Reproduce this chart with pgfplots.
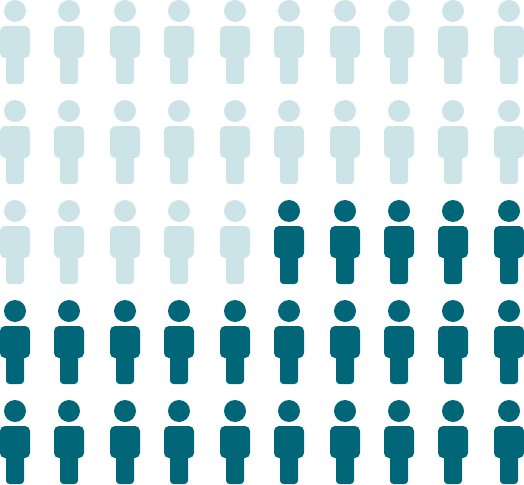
\documentclass[border=0pt]{standalone}
\usepackage{pgfplots}
\pgfplotsset{compat=1.18}
\definecolor{lightperson}{HTML}{CCE4E8}
\definecolor{darkperson}{HTML}{006678}
% rounded box: x1,y1,x2,y2 in pt, path starts mid-edge so all four corners get arced
\newcommand{\roundbox}[4]{%
  \pgfpathmoveto{\pgfqpoint{0pt}{#4pt}}%
  \pgfpathlineto{\pgfqpoint{#3pt}{#4pt}}%
  \pgfpathlineto{\pgfqpoint{#3pt}{#2pt}}%
  \pgfpathlineto{\pgfqpoint{#1pt}{#2pt}}%
  \pgfpathlineto{\pgfqpoint{#1pt}{#4pt}}%
  \pgfpathclose
  \pgfusepath{fill}}
% one pictogram, origin at the centre of the head, 1pt = 1px of the reference
\pgfdeclareplotmark{person}{%
  \pgfpathcircle{\pgfqpoint{0pt}{0pt}}{11pt}%
  \pgfusepath{fill}%
  \begin{pgfscope}
    \pgfsetcornersarced{\pgfqpoint{5pt}{5pt}}%
    \roundbox{-15}{-47}{15}{-15}%
  \end{pgfscope}
  \begin{pgfscope}
    \pgfsetcornersarced{\pgfqpoint{3.5pt}{3.5pt}}%
    \roundbox{-9}{-73}{9}{-35}%
  \end{pgfscope}
}
\begin{document}
\begin{tikzpicture}
\begin{axis}[
    scale only axis,
    width=524pt, height=484pt,
    xmin=0, xmax=524, ymin=0, ymax=484,
    y dir=reverse,
    hide axis,
    clip=false,
  ]
  \addplot[only marks, mark=person, color=lightperson, mark options={draw=none, fill=lightperson}] coordinates {
    (15,11)(69,11)(125,11)(179,11)(235,11)(289,11)(345,11)(399,11)(453,11)(509,11)
    (15,111)(69,111)(125,111)(179,111)(235,111)(289,111)(345,111)(399,111)(453,111)(509,111)
    (15,211)(69,211)(125,211)(179,211)(235,211)
  };
  \addplot[only marks, mark=person, color=darkperson, mark options={draw=none, fill=darkperson}] coordinates {
    (289,211)(345,211)(399,211)(453,211)(509,211)
    (15,311)(69,311)(125,311)(179,311)(235,311)(289,311)(345,311)(399,311)(453,311)(509,311)
    (15,411)(69,411)(125,411)(179,411)(235,411)(289,411)(345,411)(399,411)(453,411)(509,411)
  };
\end{axis}
\end{tikzpicture}
\end{document}
